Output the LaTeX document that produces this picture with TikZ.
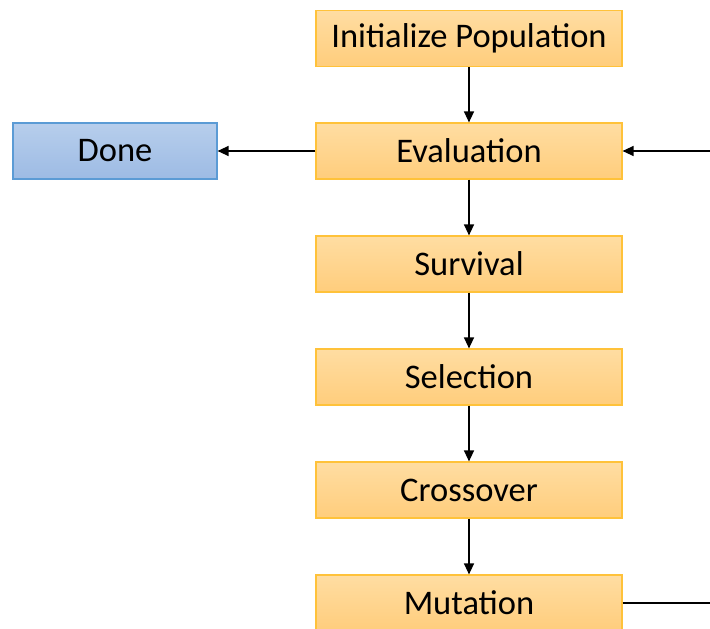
\documentclass[tikz,border=0pt]{standalone}
\usepackage{fontspec}
\setmainfont{Carlito}
\usetikzlibrary{arrows.meta}
\begin{document}
\begin{tikzpicture}[x=1pt,y=-1pt,
  stepbox/.style={draw=boxedge, line width=1.2pt, top color=stepTop, bottom color=stepBot,
    minimum width=306pt, minimum height=56pt, inner sep=0pt, font=\fontsize{34.5}{38}\selectfont},
  donebox/.style={draw=doneEdge, line width=1.2pt, top color=doneTop, bottom color=doneBot,
    minimum width=204pt, minimum height=56pt, inner sep=0pt, font=\fontsize{34.5}{38}\selectfont},
  flow/.style={line width=1.4pt, -{Triangle[length=11pt,width=10pt]}}]
\definecolor{boxedge}{HTML}{FFC23A}
\definecolor{stepTop}{HTML}{FFDDA2}
\definecolor{stepBot}{HTML}{FFCD7C}
\definecolor{doneEdge}{HTML}{5B9BD5}
\definecolor{doneTop}{HTML}{B7CEEC}
\definecolor{doneBot}{HTML}{9DBBE4}
\useasboundingbox (0,0) rectangle (710,629);
\clip (0,0) rectangle (710,629);
\node[stepbox] (init) at (469,38.5) {Initialize Population};
\node[stepbox] (eval) at (469,151) {Evaluation};
\node[stepbox] (surv) at (469,264) {Survival};
\node[stepbox] (sel) at (469,377) {Selection};
\node[stepbox] (cross) at (469,490) {Crossover};
\node[stepbox] (mut) at (469,603) {Mutation};
\node[donebox] (done) at (115,151) {Done};
\coordinate (loopin) at (712,151);
\coordinate (loopout) at (712,603);
\draw[flow] (init) -- (eval);
\draw[flow] (eval) -- (surv);
\draw[flow] (surv) -- (sel);
\draw[flow] (sel) -- (cross);
\draw[flow] (cross) -- (mut);
\draw[flow] (eval) -- (done);
\draw[flow] (loopin) -- (eval);
\draw[line width=1.4pt] (mut) -- (loopout);
\end{tikzpicture}
\end{document}
